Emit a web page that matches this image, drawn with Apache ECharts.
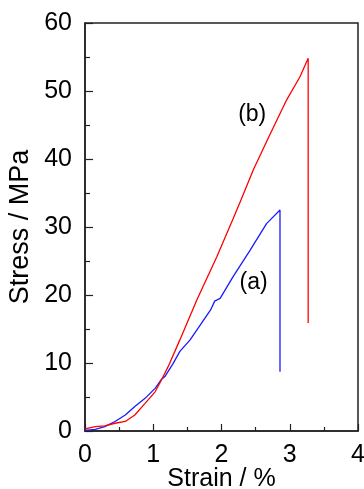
<!DOCTYPE html>
<html>
<head>
<meta charset="utf-8">
<script src="https://cdn.jsdelivr.net/npm/echarts@6/dist/echarts.min.js"></script>
<style>
html,body{margin:0;padding:0;background:#fff;}
#chart{width:364px;height:489px;}
</style>
</head>
<body>
<div id="chart"></div>
<script>
// Curve (a) — blue
var strainA = [0.0, 0.02, 0.15, 0.29, 0.44, 0.59, 0.73, 0.88, 1.03, 1.12, 1.17, 1.29, 1.39, 1.54, 1.69, 1.84, 1.90, 1.92, 1.98, 2.17, 2.42, 2.66, 2.857, 2.857];
var stressA = [0.1, 0.05, 0.25, 0.64, 1.4, 2.35, 3.6, 4.8, 6.3, 7.6, 8.0, 9.9, 11.7, 13.4, 15.6, 17.8, 19.1, 18.9, 19.5, 22.7, 26.6, 30.5, 32.5, 8.7];
// Curve (b) — red
var strainB = [0.0, 0.15, 0.29, 0.44, 0.59, 0.73, 0.88, 1.03, 1.12, 1.22, 1.39, 1.64, 1.93, 2.17, 2.27, 2.47, 2.71, 2.955, 3.15, 3.27, 3.27];
var stressB = [0.3, 0.64, 0.74, 1.14, 1.4, 2.35, 4.07, 5.8, 7.5, 9.5, 13.4, 19.3, 25.6, 31.2, 33.6, 38.5, 43.6, 48.7, 52.1, 54.8, 15.9];
var xTicks = [0, 1, 2, 3, 4];
var yTicks = [0, 10, 20, 30, 40, 50, 60];
var labelA = '(a)', labelB = '(b)';
var labelPosA = [2.47, 21.8], labelPosB = [2.45, 46.5];

function pairs(xs, ys){ return xs.map(function(x,i){ return [x, ys[i]]; }); }

var font = "'Liberation Sans', Arial, sans-serif";
var chart = echarts.init(document.getElementById('chart'), null, {renderer:'canvas'});
chart.setOption({
  animation:false,
  backgroundColor:'#fff',
  grid:{left:85, right:6, top:23, bottom:58, containLabel:false, outerBoundsMode:'none',
        show:true, borderColor:'#222', borderWidth:1.5, backgroundColor:'transparent'},
  xAxis:{
    type:'value', min:xTicks[0], max:xTicks[xTicks.length-1], interval:1,
    name:'Strain / %', nameLocation:'middle', nameGap:36, nameMoveOverlap:false,
    nameTextStyle:{fontFamily:font, fontSize:25, color:'#000'},
    axisLine:{show:true, lineStyle:{color:'#222', width:1.5}},
    axisTick:{show:true, inside:true, length:7, lineStyle:{color:'#222', width:1.2}},
    minorTick:{show:true, splitNumber:2, length:4, lineStyle:{color:'#222', width:1.2}},
    axisLabel:{fontFamily:font, fontSize:25, color:'#000', margin:12},
    splitLine:{show:false}
  },
  yAxis:{
    type:'value', min:yTicks[0], max:yTicks[yTicks.length-1], interval:10,
    name:'Stress / MPa', nameLocation:'middle', nameGap:51, nameRotate:90, nameMoveOverlap:false,
    nameTextStyle:{fontFamily:font, fontSize:27, color:'#000'},
    axisLine:{show:true, lineStyle:{color:'#222', width:1.5}},
    axisTick:{show:true, inside:true, length:8, lineStyle:{color:'#222', width:1.2}},
    minorTick:{show:true, splitNumber:2, length:5, lineStyle:{color:'#222', width:1.2}},
    axisLabel:{fontFamily:font, fontSize:25, color:'#000', margin:13},
    splitLine:{show:false}
  },
  series:[
    {type:'line', data:pairs(strainA, stressA), showSymbol:false, lineStyle:{color:'#1a1aff', width:1.3}, itemStyle:{color:'#1a1aff'},
     markPoint:{symbol:'circle', symbolSize:0, data:[{coord:labelPosA, value:labelA}],
       label:{show:true, position:'inside', formatter:labelA, fontFamily:font, fontSize:23, color:'#000'}}},
    {type:'line', data:pairs(strainB, stressB), showSymbol:false, lineStyle:{color:'#ff0000', width:1.3}, itemStyle:{color:'#ff0000'},
     markPoint:{symbol:'circle', symbolSize:0, data:[{coord:labelPosB, value:labelB}],
       label:{show:true, position:'inside', formatter:labelB, fontFamily:font, fontSize:23, color:'#000'}}}
  ]
});
</script>
</body>
</html>
